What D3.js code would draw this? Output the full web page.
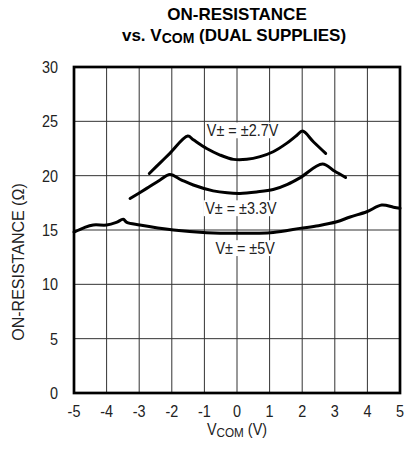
<!DOCTYPE html>
<html><head><meta charset="utf-8">
<script src="https://cdn.jsdelivr.net/npm/d3@7"></script>
<style>body{margin:0;background:#fff}svg{display:block}</style>
</head><body>
<svg id="c" width="405" height="455"></svg>
<script>
const xTicks = [-5,-4,-3,-2,-1,0,1,2,3,4,5];
const yTicks = [0,5,10,15,20,25,30];
const series27 = [[-2.69,20.2],[-2.35,21.2],[-2.06,22.05],[-1.51,23.64],[-1.34,23.3],[-0.93,22.5],[-0.52,21.9],[-0.11,21.5],[0.3,21.5],[0.71,21.75],[1.11,22.2],[1.52,22.97],[1.83,23.7],[2.01,24.1],[2.35,23.1],[2.72,22.05]];
const series33 = [[-3.28,17.9],[-2.77,18.83],[-2.36,19.6],[-2.06,20.1],[-1.7,19.6],[-1.34,19.14],[-0.73,18.6],[-0.3,18.42],[0.09,18.37],[0.6,18.5],[1.11,18.72],[1.55,19.2],[1.93,19.8],[2.62,21.07],[3.0,20.4],[3.33,19.84]];
const series5 = [[-5,14.8],[-4.7,15.2],[-4.41,15.46],[-4.0,15.46],[-3.7,15.7],[-3.49,15.98],[-3.38,15.7],[-2.98,15.46],[-1.95,15.0],[-0.93,14.75],[-0.01,14.69],[1.11,14.78],[1.93,15.15],[2.5,15.4],[3.06,15.76],[3.47,16.2],[3.98,16.68],[4.44,17.3],[4.8,17.1],[5,17.0]];
const labels = [{t:"V± = ±2.7V", x:0.17, y:23.64},{t:"V± = ±3.3V", x:0.12, y:16.47},{t:"V± = ±5V", x:0.25, y:12.8}];

const svg = d3.select("#c");
const L=74,R=400,T=67,B=393;
const x = d3.scaleLinear().domain([-5,5]).range([L,R]);
const y = d3.scaleLinear().domain([0,30]).range([B,T]);
const font = "'Liberation Sans',Arial,sans-serif";
const SX = 0.9;

// grid
const g = svg.append("g");
g.selectAll(".vx").data(xTicks.slice(1,-1)).enter().append("line")
 .attr("x1",d=>x(d)).attr("x2",d=>x(d)).attr("y1",T).attr("y2",B)
 .attr("stroke","#333").attr("stroke-width",1);
g.selectAll(".hy").data(yTicks.slice(1,-1)).enter().append("line")
 .attr("y1",d=>y(d)).attr("y2",d=>y(d)).attr("x1",L).attr("x2",R)
 .attr("stroke","#333").attr("stroke-width",1);

// labels with white background
labels.forEach(l=>{
  const lg = svg.append("g").attr("transform","translate("+x(l.x)+","+y(l.y)+") scale("+SX+",1)");
  const t = lg.append("text").attr("x",0).attr("y",0).attr("text-anchor","middle")
   .attr("font-family",font).attr("font-size",16).attr("fill","#222").text(l.t);
  const bb = t.node().getBBox();
  lg.insert("rect","text").attr("x",bb.x-2).attr("y",bb.y+1).attr("width",bb.width+4).attr("height",bb.height-2).attr("fill","#fff");
});

// curves
const line = d3.line().x(d=>x(d[0])).y(d=>y(d[1])).curve(d3.curveCatmullRom.alpha(0.5));
[series27,series33,series5].forEach(s=>{
  svg.append("path").attr("d",line(s)).attr("fill","none").attr("stroke","#000")
   .attr("stroke-width",3).attr("stroke-linejoin","round").attr("stroke-linecap","round");
});

// border
svg.append("rect").attr("x",L).attr("y",T).attr("width",R-L).attr("height",B-T)
 .attr("fill","none").attr("stroke","#000").attr("stroke-width",2.7);

// axes tick labels
xTicks.forEach(d=>{
  svg.append("g").attr("transform","translate("+x(d)+",417) scale("+SX+",1)")
   .append("text").attr("text-anchor","middle")
   .attr("font-family",font).attr("font-size",16).attr("fill","#222").text(d);
});
yTicks.forEach(d=>{
  svg.append("g").attr("transform","translate(58,"+(y(d)+6)+") scale("+SX+",1)")
   .append("text").attr("text-anchor","end")
   .attr("font-family",font).attr("font-size",16).attr("fill","#222").text(d);
});

// axis titles
const xt = svg.append("g").attr("transform","translate("+x(0)+",435) scale("+SX+",1)")
 .append("text").attr("text-anchor","middle")
 .attr("font-family",font).attr("font-size",16).attr("fill","#222");
xt.append("tspan").text("V");
xt.append("tspan").attr("font-size",13).attr("dy",2).text("COM");
xt.append("tspan").attr("dy",-2).text(" (V)");
svg.append("text").attr("transform","translate(24,262) rotate(-90)")
 .attr("text-anchor","middle").attr("font-family",font).attr("font-size",16).attr("fill","#222")
 .text("ON-RESISTANCE (Ω)");

// title
svg.append("text").attr("x",237).attr("y",20).attr("text-anchor","middle")
 .attr("font-family",font).attr("font-weight","bold").attr("font-size",17).attr("fill","#000").text("ON-RESISTANCE");
const t2 = svg.append("text").attr("x",234).attr("y",41).attr("text-anchor","middle")
 .attr("font-family",font).attr("font-weight","bold").attr("font-size",17).attr("fill","#000");
t2.append("tspan").text("vs. V");
t2.append("tspan").attr("font-size",14).attr("dy",2).text("COM");
t2.append("tspan").attr("dy",-2).text(" (DUAL SUPPLIES)");
</script>
</body></html>
